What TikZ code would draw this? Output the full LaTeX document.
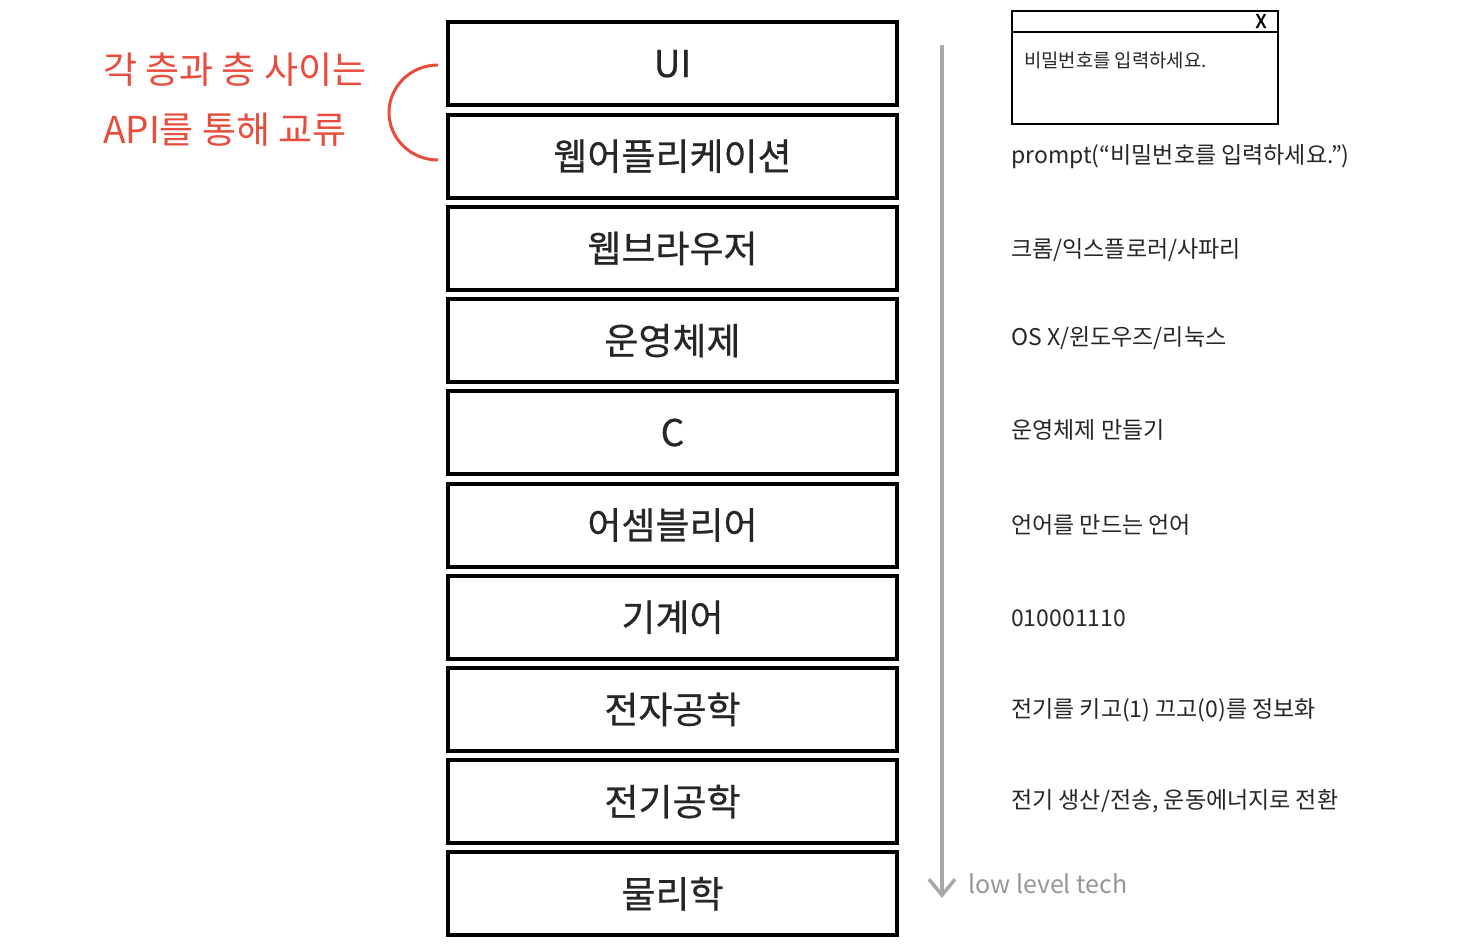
\documentclass[tikz,border=0pt]{standalone}
\usepackage{fontspec}
\newfontfamily\kr{Noto Sans CJK KR}
\newfontfamily\krb[FakeBold=0.6]{Noto Sans CJK KR}
\newfontfamily\krx[FakeBold=2]{Noto Sans CJK KR}
\usetikzlibrary{arrows.meta}
\definecolor{accent}{RGB}{231,76,60}
\definecolor{arrowgray}{RGB}{168,168,168}
\definecolor{textgray}{RGB}{150,150,150}
\begin{document}
\begin{tikzpicture}[x=1pt,y=-1pt,
  layer/.style={draw=black,line width=4pt,minimum width=449pt,minimum height=83pt,inner sep=0pt,font=\krb\fontsize{37}{42}\selectfont,text=black!85},
  desc/.style={anchor=west,inner sep=0pt,font=\kr\fontsize{23}{28}\selectfont,text=black!85},
  redtext/.style={anchor=west,inner sep=0pt,font=\kr\fontsize{37}{42}\selectfont,text=accent}]
\useasboundingbox (0,0) rectangle (1470,952);
% layers
\foreach \t/\n [count=\i from 0] in {UI/l0,웹어플리케이션/l1,웹브라우저/l2,운영체제/l3,C/l4,어셈블리어/l5,기계어/l6,전자공학/l7,전기공학/l8,물리학/l9}{
  \node[layer] (\n) at (672.5,{64+92.2*\i}) {\raisebox{1pt}{\t}};
}
% descriptions
\node[desc] (d1) at (1011,157) {prompt(“비밀번호를 입력하세요.”)};
\node[desc] (d2) at (1011,250) {크롬/익스플로러/사파리};
\node[desc] (d3) at (1011,338) {OS X/윈도우즈/리눅스};
\node[desc] (d4) at (1011,430) {운영체제 만들기};
\node[desc] (d5) at (1011,525) {언어를 만드는 언어};
\node[desc] (d6) at (1011,618) {010001110};
\node[desc] (d7) at (1011,710) {전기를 키고(1) 끄고(0)를 정보화};
\node[desc] (d8) at (1011,801) {전기 생산/전송, 운동에너지로 전환};
% prompt window
\draw[line width=2pt] (1012,11) rectangle (1278,124);
\draw[line width=2pt] (1012,32) -- (1278,32);
\node[inner sep=0pt,font=\krx\fontsize{19}{22}\selectfont] (xbtn) at (1261,21) {X};
\node[anchor=west,inner sep=0pt,font=\kr\fontsize{18.8}{22}\selectfont,text=black!85] (ptxt) at (1024,60) {비밀번호를 입력하세요.};
% arrow
\coordinate (atop) at (942,45);
\coordinate (abot) at (942,898);
\draw[arrowgray,line width=3.5pt,-{Straight Barb[length=16pt,width=26pt,line width=3.5pt]}] (atop) -- (abot);
\node[anchor=west,inner sep=0pt,font=\kr\fontsize{25}{30}\selectfont,text=textgray] (low) at (968,884) {low level tech};
% red note
\node[redtext] (r1) at (103,70) {각 층과 층 사이는};
\node[redtext] (r2) at (103,130) {API를 통해 교류};
\draw[accent,line width=3pt] (438,65) arc[start angle=270,end angle=90,x radius=49,y radius=47.5];
\end{tikzpicture}
\end{document}
